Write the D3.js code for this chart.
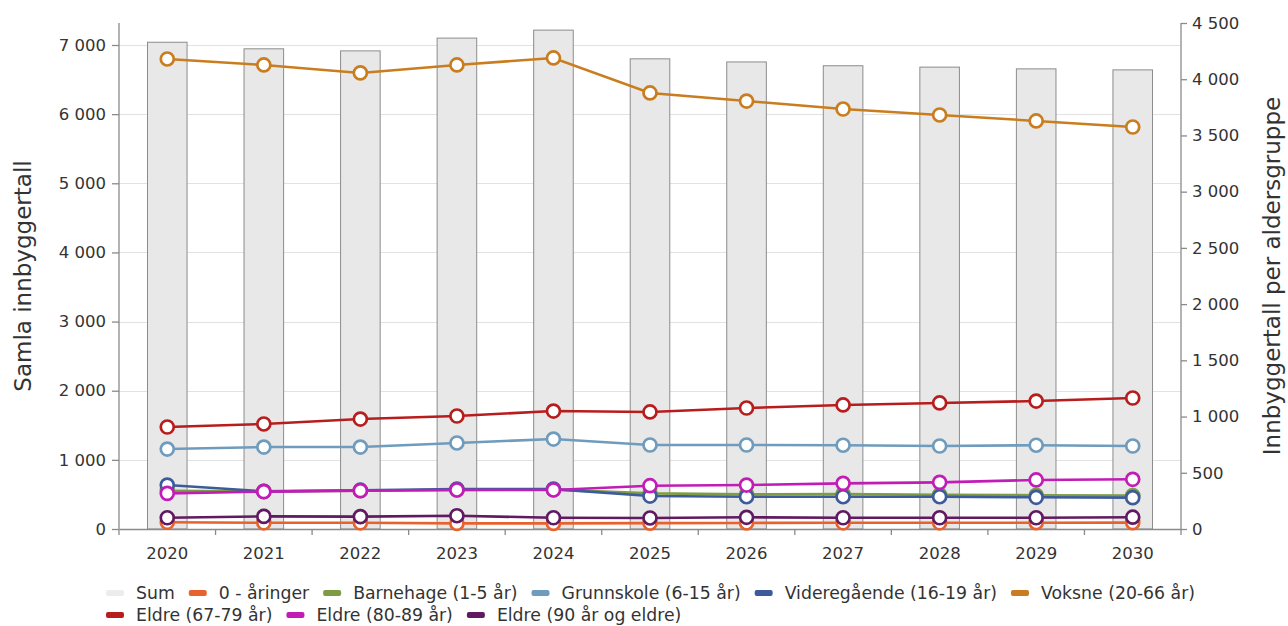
<!DOCTYPE html>
<html>
<head>
<meta charset="utf-8">
<script src="https://cdn.jsdelivr.net/npm/d3@7"></script>
<style>
  body { margin: 0; background: #fff; }
  svg { font-family: "DejaVu Sans", sans-serif; }
</style>
</head>
<body>
<svg width="1288" height="626"></svg>
<script>
var years = ["2020", "2021", "2022", "2023", "2024", "2025", "2026", "2027", "2028", "2029", "2030"];

// Sum (bars, left axis)
var sum = [7040, 6945, 6915, 7100, 7215, 6800, 6755, 6700, 6680, 6655, 6640];

// age groups (lines, right axis)
var nullAaringer = [60, 55, 55, 50, 50, 52, 54, 55, 55, 56, 57];
var barnehage = [340, 335, 340, 348, 350, 317, 309, 311, 305, 300, 298];
var grunnskole = [711, 729, 729, 765, 800, 747, 747, 745, 738, 745, 738];
var videregaende = [391, 335, 345, 355, 355, 293, 287, 287, 287, 282, 279];
var voksne = [4180, 4127, 4056, 4127, 4189, 3878, 3806, 3735, 3682, 3629, 3575];
var eldre6779 = [907, 934, 978, 1005, 1049, 1041, 1076, 1103, 1121, 1138, 1165];
var eldre8089 = [317, 332, 341, 347, 347, 385, 391, 406, 415, 436, 442];
var eldre90 = [100, 112, 110, 118, 100, 98, 104, 100, 100, 100, 105];

var leftTicks = [0, 1000, 2000, 3000, 4000, 5000, 6000, 7000];
var rightTicks = [0, 500, 1000, 1500, 2000, 2500, 3000, 3500, 4000, 4500];

var series = [
    { name: "0 - åringer", values: nullAaringer, color: "#e8622e" },
    { name: "Barnehage (1-5 år)", values: barnehage, color: "#7d9c45" },
    { name: "Grunnskole (6-15 år)", values: grunnskole, color: "#6f9bbd" },
    { name: "Videregående (16-19 år)", values: videregaende, color: "#3d5b9b" },
    { name: "Voksne (20-66 år)", values: voksne, color: "#c97d1e" },
    { name: "Eldre (67-79 år)", values: eldre6779, color: "#b81d1d" },
    { name: "Eldre (80-89 år)", values: eldre8089, color: "#c21cb6" },
    { name: "Eldre (90 år og eldre)", values: eldre90, color: "#601a60" }
];

var svg = d3.select("svg");
var plotLeft = 119, plotRight = 1181, plotTop = 23, plotBottom = 529;

var x = d3.scaleBand().domain(years).range([plotLeft, plotRight]);
var yL = d3.scaleLinear().domain([0, 7000]).range([plotBottom, plotBottom - 7000 * 0.069143]);
var yR = d3.scaleLinear().domain([0, 4500]).range([plotBottom, plotTop]);

var fmt = function(d) { return d3.format(",")(d).replace(/,/g, " "); };

// gridlines
svg.append("g")
    .selectAll("line")
    .data(leftTicks.slice(1))
    .enter()
    .append("line")
    .attr("x1", plotLeft)
    .attr("x2", plotRight)
    .attr("y1", function(d) { return Math.round(yL(d)) + 0.5; })
    .attr("y2", function(d) { return Math.round(yL(d)) + 0.5; })
    .attr("stroke", "#e2e2e2")
    .attr("stroke-width", 1);

// bars
var barW = x.bandwidth() * 0.41;
svg.append("g")
    .selectAll("rect")
    .data(sum)
    .enter()
    .append("rect")
    .attr("x", function(d, i) { return x(years[i]) + (x.bandwidth() - barW) / 2; })
    .attr("y", function(d) { return yL(d); })
    .attr("width", barW)
    .attr("height", function(d) { return plotBottom - yL(d); })
    .attr("fill", "#e8e8e8")
    .attr("stroke", "#8c8c8c")
    .attr("stroke-width", 1);

// axes
var axisColor = "#8a8a8a";
var gL = svg.append("g")
    .attr("transform", "translate(" + plotLeft + ",0)")
    .call(d3.axisLeft(yL).tickValues(leftTicks).tickFormat(fmt).tickSize(7).tickSizeOuter(0));
var gR = svg.append("g")
    .attr("transform", "translate(" + plotRight + ",0)")
    .call(d3.axisRight(yR).tickValues(rightTicks).tickFormat(fmt).tickSize(6).tickSizeOuter(0));
var gX = svg.append("g")
    .attr("transform", "translate(0," + plotBottom + ")")
    .call(d3.axisBottom(x).tickSize(0).tickPadding(18));

gX.selectAll(".tick")
    .append("line")
    .attr("x1", -x.bandwidth() / 2)
    .attr("x2", -x.bandwidth() / 2)
    .attr("y1", 0)
    .attr("y2", 6);
gX.append("line")
    .attr("x1", plotRight)
    .attr("x2", plotRight)
    .attr("y1", 0)
    .attr("y2", 6);

[gL, gR, gX].forEach(function(g) {
    g.selectAll("path").attr("stroke", axisColor).attr("stroke-width", 1.3);
    g.selectAll("line").attr("stroke", axisColor).attr("stroke-width", 1.3);
    g.selectAll("text")
        .attr("fill", "#333")
        .style("font-family", "'DejaVu Sans', sans-serif")
        .style("font-size", "16.5px");
});
gL.select("path").attr("d", "M0," + plotTop + "V" + plotBottom);
gR.select("path").attr("d", "M0," + plotTop + "V" + plotBottom);
gL.selectAll("text").attr("x", -13);
gR.selectAll("text").attr("x", 11);

// axis titles
svg.append("text")
    .attr("transform", "translate(31," + (plotBottom + plotTop) / 2 + ") rotate(-90)")
    .attr("text-anchor", "middle")
    .attr("fill", "#333")
    .style("font-size", "23px")
    .text("Samla innbyggertall");
svg.append("text")
    .attr("transform", "translate(1280," + (plotBottom + plotTop) / 2 + ") rotate(-90)")
    .attr("text-anchor", "middle")
    .attr("fill", "#333")
    .style("font-size", "23px")
    .text("Innbyggertall per aldersgruppe");

// lines
var line = d3.line()
    .x(function(d, i) { return x(years[i]) + x.bandwidth() / 2; })
    .y(function(d) { return yR(d); });

series.forEach(function(s) {
    var g = svg.append("g");
    g.append("path")
        .datum(s.values)
        .attr("d", line)
        .attr("fill", "none")
        .attr("stroke", s.color)
        .attr("stroke-width", 2.6);
    g.selectAll("circle")
        .data(s.values)
        .enter()
        .append("circle")
        .attr("cx", function(d, i) { return x(years[i]) + x.bandwidth() / 2; })
        .attr("cy", function(d) { return yR(d); })
        .attr("r", 6.5)
        .attr("fill", "#fff")
        .attr("stroke", s.color)
        .attr("stroke-width", 2.7);
});

// legend
var legendItems = [{ name: "Sum", color: "#ececec" }].concat(series);
var legend = svg.append("g");
var lx = 106, ly = 593, maxX = 1215;
legendItems.forEach(function(item) {
    var g = legend.append("g");
    var t = g.append("text")
        .attr("x", 30)
        .attr("y", 6)
        .attr("fill", "#333")
        .style("font-size", "17.3px")
        .text(item.name);
    var w = 30 + t.node().getComputedTextLength();
    if (lx + w > maxX) {
        lx = 106;
        ly += 22;
    }
    g.attr("transform", "translate(" + lx + "," + ly + ")");
    g.insert("rect", "text")
        .attr("x", 0)
        .attr("y", -3)
        .attr("width", 18)
        .attr("height", 6)
        .attr("rx", 2)
        .attr("fill", item.color);
    lx += w + 14;
});
</script>
</body>
</html>
